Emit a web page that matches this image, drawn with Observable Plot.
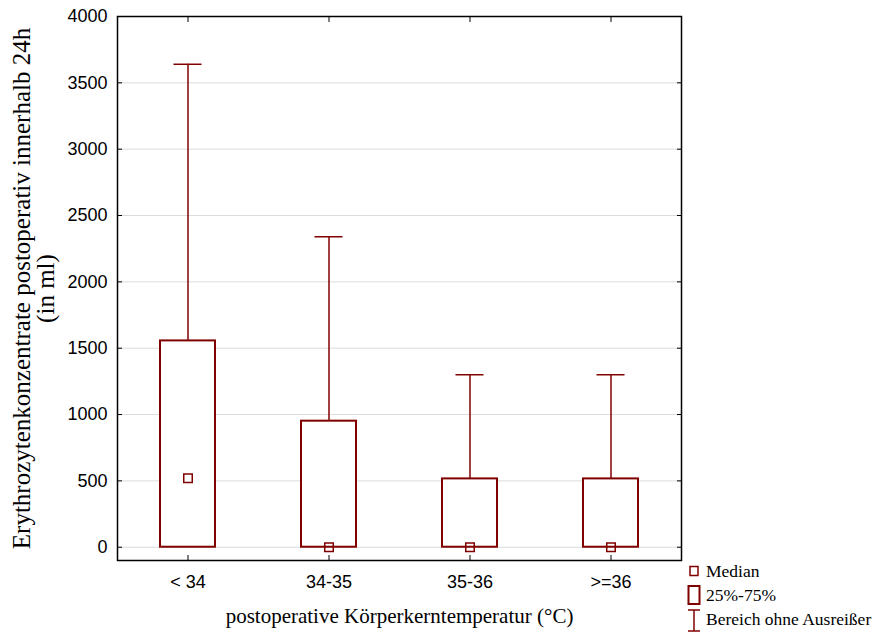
<!DOCTYPE html>
<html>
<head>
<meta charset="utf-8">
<script src="https://cdn.jsdelivr.net/npm/d3@7"></script>
<script src="https://cdn.jsdelivr.net/npm/@observablehq/plot@0.6"></script>
<style>
  html, body { margin: 0; padding: 0; background: #fff; }
  #wrap { position: relative; width: 879px; height: 639px; }
  #legend { position: absolute; left: 0; top: 0; pointer-events: none; }
</style>
</head>
<body>
<div id="wrap"></div>
<script>
const categories = ["< 34", "34-35", "35-36", ">=36"];
const medians = [520, 0, 0, 0];
const q25 = [0, 0, 0, 0];
const q75 = [1555, 950, 515, 515];
const whiskerMin = [0, 0, 0, 0];
const whiskerMax = [3640, 2340, 1300, 1300];
const yTicks = [0, 500, 1000, 1500, 2000, 2500, 3000, 3500, 4000];
const yTitle = "Erythrozytenkonzentrate postoperativ innerhalb 24h\n(in ml)";
const xTitle = "postoperative Körperkerntemperatur (°C)";
const legendLabels = ["Median", "25%-75%", "Bereich ohne Ausreißer"];

const data = categories.map((c, i) => ({
  cat: c, median: medians[i], q1: q25[i], q3: q75[i], lo: whiskerMin[i], hi: whiskerMax[i]
}));

const red = "#800000";
const serif = "'Liberation Serif', 'Times New Roman', serif";
const sans = "'Liberation Sans', Arial, sans-serif";

const chart = Plot.plot({
  width: 879,
  height: 639,
  marginLeft: 117,
  marginRight: 198,
  marginTop: 16,
  marginBottom: 79,
  style: { fontFamily: sans, background: "#fff", color: "#000" },
  x: { domain: categories, padding: 0 },
  y: { domain: [-100, 4000] },
  marks: [
    Plot.gridY(yTicks, { stroke: "#dcdcdc", strokeOpacity: 1, strokeWidth: 1 }),
    Plot.frame({ stroke: "#000", strokeWidth: 1.5 }),
    Plot.axisY(yTicks, { anchor: "left", tickSize: 0, tickPadding: 10, fontSize: 18, label: null, tickFormat: d => String(d) }),
    Plot.axisY(yTicks, { anchor: "left", tickSize: 5, dx: 5, text: null, label: null }),
    Plot.axisY(yTicks, { anchor: "right", tickSize: 5, dx: -5, text: null, label: null }),
    Plot.axisX({ anchor: "bottom", tickSize: 0, tickPadding: 15, fontSize: 18, label: null }),
    Plot.axisX({ anchor: "bottom", tickSize: 5, dy: -5, text: null, label: null }),
    Plot.axisX({ anchor: "top", tickSize: 5, dy: 5, text: null, label: null }),
    // whiskers
    Plot.ruleX(data, { x: "cat", y1: "q3", y2: "hi", stroke: red, strokeWidth: 1.5 }),
    Plot.ruleX(data, { x: "cat", y1: "lo", y2: "q1", stroke: red, strokeWidth: 1.5 }),
    Plot.tickY(data, { x: "cat", y: "hi", stroke: red, strokeWidth: 1.5, inset: 56.5 }),
    // boxes
    Plot.barY(data, { x: "cat", y1: "q1", y2: "q3", fill: "#fff", stroke: red, strokeWidth: 2, insetLeft: 43, insetRight: 43 }),
    // median
    Plot.dot(data, { x: "cat", y: "median", symbol: "square", r: 4.8, stroke: red, strokeWidth: 1.5, fill: "none" }),
    // titles
    Plot.text([yTitle], { frameAnchor: "left", textAnchor: "middle", rotate: -90, dx: -83, fontSize: 25, fontFamily: serif, lineHeight: 0.96, fill: "#000" }),
    Plot.text([xTitle], { frameAnchor: "bottom", dy: 62, fontSize: 21, fontFamily: serif, fill: "#000" })
  ]
});

const wrap = document.getElementById("wrap");
wrap.appendChild(chart);

// Legend overlay
const lg = d3.select(wrap).append("svg")
  .attr("id", "legend").attr("width", 879).attr("height", 639);
const rows = [571, 595, 619];
const tx = 706;
lg.append("rect").attr("x", 690).attr("y", 566.5).attr("width", 8).attr("height", 9)
  .attr("fill", "none").attr("stroke", red).attr("stroke-width", 1.5);
lg.append("rect").attr("x", 688.5).attr("y", 586).attr("width", 11).attr("height", 18)
  .attr("fill", "none").attr("stroke", red).attr("stroke-width", 2);
lg.append("line").attr("x1", 694).attr("x2", 694).attr("y1", 610).attr("y2", 631).attr("stroke", red).attr("stroke-width", 1.5);
lg.append("line").attr("x1", 688).attr("x2", 700).attr("y1", 610).attr("y2", 610).attr("stroke", red).attr("stroke-width", 1.5);
lg.append("line").attr("x1", 688).attr("x2", 700).attr("y1", 631).attr("y2", 631).attr("stroke", red).attr("stroke-width", 1.5);
legendLabels.forEach((t, i) => {
  lg.append("text").attr("x", tx).attr("y", rows[i]).attr("dy", "0.35em")
    .attr("font-family", serif).attr("font-size", 17.5).attr("fill", "#000").text(t);
});
</script>
</body>
</html>
